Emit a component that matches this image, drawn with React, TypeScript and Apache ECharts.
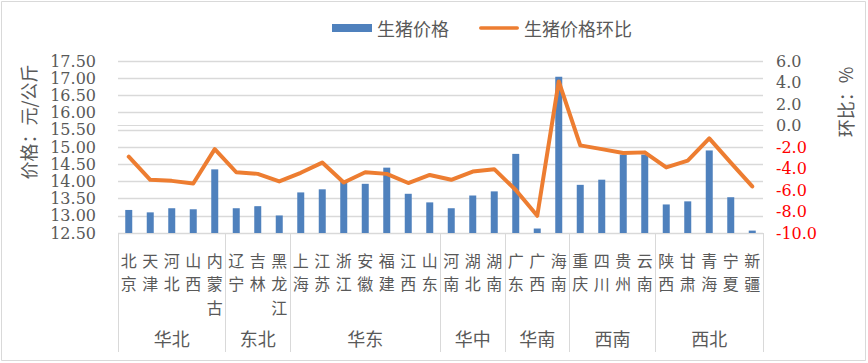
import React, { useEffect, useRef } from "react";
import * as echarts from "echarts";

const categories = ["北京","天津","河北","山西","内蒙古","辽宁","吉林","黑龙江","上海","江苏","浙江","安徽","福建","江西","山东","河南","湖北","湖南","广东","广西","海南","重庆","四川","贵州","云南","陕西","甘肃","青海","宁夏","新疆"];
const regions = ["华北","东北","华东","华中","华南","西南","西北"];
const regionSizes = [5, 3, 7, 3, 3, 4, 5];
const prices = [13.17,13.10,13.22,13.19,14.35,13.22,13.28,13.01,13.68,13.77,14.0,13.93,14.40,13.64,13.39,13.22,13.59,13.71,14.80,12.63,17.04,13.90,14.05,14.78,14.78,13.33,13.42,14.90,13.54,12.57];
const momChange = [-2.9,-5.05,-5.15,-5.4,-2.2,-4.35,-4.5,-5.2,-4.4,-3.45,-5.3,-4.35,-4.5,-5.35,-4.6,-5.05,-4.28,-4.06,-6.0,-8.4,4.1,-1.85,-2.2,-2.55,-2.5,-3.9,-3.27,-1.2,-3.45,-5.67];
const leftTicks = { min: 12.5, max: 17.5, interval: 0.5 };
const rightTicks = { min: -10, max: 6, interval: 2 };

const GRAY = "#595959";
const CJK = "'Noto Sans CJK SC', sans-serif";
const NUM = "'DejaVu Serif', serif";
const LINE_ICON = "path://M0,0 M45,8 M2,2 L43,2 A2,2 0 0 1 43,6 L2,6 A2,2 0 0 1 2,2 Z";
const ROW_PITCH = 23.4;

export default function App() {
  const ref = useRef<HTMLDivElement>(null);
  useEffect(() => {
    if (!ref.current) return;
    const chart = echarts.init(ref.current, null, { renderer: "svg" });
    const boundaries: number[] = [0];
    const centers: number[] = [];
    regionSizes.forEach((s) => {
      const start = boundaries[boundaries.length - 1];
      centers.push(start + s / 2);
      boundaries.push(start + s);
    });
    // one category axis per character row of the vertical labels
    const charAxis = (row: number, showLine: boolean) => ({
      type: "category",
      data: categories,
      position: "bottom",
      axisLine: { show: showLine, lineStyle: { color: "#d9d9d9", width: 1 } },
      axisTick: { show: false },
      splitLine: { show: false },
      axisLabel: {
        interval: 0,
        margin: 15 + row * ROW_PITCH,
        fontFamily: CJK,
        fontSize: 16,
        lineHeight: ROW_PITCH,
        color: GRAY,
        verticalAlign: "top",
        formatter: (v: string) => v.charAt(row) || "",
      },
    });
    chart.setOption({
      animation: false,
      backgroundColor: "#fff",
      grid: { left: 118, right: 105, top: 61, bottom: 130 },
      legend: {
        left: 327,
        top: 14,
        itemWidth: 40,
        itemHeight: 8,
        itemGap: 30,
        textStyle: { fontFamily: CJK, fontSize: 18, color: GRAY },
        data: [
          { name: "生猪价格", icon: "rect" },
          { name: "生猪价格环比", icon: LINE_ICON, itemStyle: { color: "#ed7d31", borderWidth: 0 } },
        ],
      },
      xAxis: [
        charAxis(0, true),
        {
          type: "value",
          position: "bottom",
          min: 0,
          max: categories.length,
          axisLine: { show: false },
          splitLine: { show: false },
          axisTick: {
            show: true,
            customValues: boundaries,
            length: 119,
            lineStyle: { color: "#d9d9d9", width: 1 },
          },
          axisLabel: {
            customValues: centers,
            margin: 94,
            fontFamily: CJK,
            fontSize: 18,
            lineHeight: 22,
            color: GRAY,
            verticalAlign: "top",
            formatter: (v: number) => {
              const i = centers.findIndex((c) => Math.abs(c - v) < 1e-6);
              return i >= 0 ? regions[i] : "";
            },
          },
        },
        charAxis(1, false),
        charAxis(2, false),
      ],
      yAxis: [
        {
          type: "value",
          ...leftTicks,
          axisLine: { show: false },
          axisTick: { show: false },
          splitLine: { lineStyle: { color: "#d9d9d9", width: 1.3 } },
          axisLabel: {
            margin: 22,
            fontFamily: NUM,
            fontSize: 16,
            color: GRAY,
            formatter: (v: number) => v.toFixed(2),
          },
        },
        {
          type: "value",
          ...rightTicks,
          position: "right",
          axisLine: { show: false },
          axisTick: { show: false },
          splitLine: { show: false },
          axisLabel: {
            margin: 13,
            fontFamily: NUM,
            fontSize: 16,
            formatter: (v: number) => (v < 0 ? "{neg|" + v.toFixed(1) + "}" : "{pos|" + v.toFixed(1) + "}"),
            rich: {
              neg: { color: "#ff0000", fontFamily: NUM, fontSize: 16 },
              pos: { color: GRAY, fontFamily: NUM, fontSize: 16 },
            },
          },
        },
      ],
      series: [
        {
          name: "生猪价格",
          type: "bar",
          xAxisIndex: 0,
          yAxisIndex: 0,
          data: prices,
          barWidth: 7,
          itemStyle: { color: "#4f81bd" },
        },
        {
          name: "生猪价格环比",
          type: "line",
          xAxisIndex: 0,
          yAxisIndex: 1,
          data: momChange,
          symbol: "none",
          showSymbol: false,
          lineStyle: { color: "#ed7d31", width: 4, join: "round", cap: "round" },
          itemStyle: { color: "#ed7d31" },
        },
      ],
      graphic: [
        {
          type: "rect",
          shape: { x: 1.5, y: 1.5, width: 864, height: 359 },
          style: { fill: "none", stroke: "#d9d9d9", lineWidth: 1 },
          silent: true,
        },
        {
          type: "text",
          x: 28,
          y: 122,
          rotation: Math.PI / 2,
          style: {
            text: "价格：元/公斤",
            fontFamily: CJK,
            fontSize: 18,
            fill: GRAY,
            align: "center",
            verticalAlign: "middle",
          },
        },
        {
          type: "text",
          x: 845,
          y: 102,
          rotation: Math.PI / 2,
          style: {
            text: "环比：%",
            fontFamily: CJK,
            fontSize: 18,
            fill: GRAY,
            align: "center",
            verticalAlign: "middle",
          },
        },
      ],
    });
    return () => chart.dispose();
  }, []);
  return (
    <div
      ref={ref}
      style={{ position: "fixed", left: 0, top: 0, width: 868, height: 363 }}
    />
  );
}
